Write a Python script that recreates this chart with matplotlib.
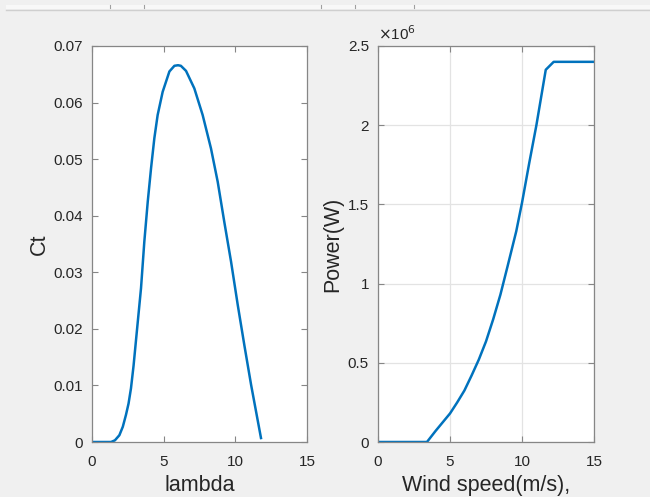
import matplotlib
matplotlib.use('Agg')
import matplotlib.pyplot as plt
from matplotlib.patches import Rectangle
from matplotlib.lines import Line2D

plt.rcParams['font.family'] = ['Liberation Sans', 'DejaVu Sans']

# Ct vs tip speed ratio
lam = [0, 0.5, 1.0, 1.33, 1.6, 1.91, 2.15, 2.37, 2.55, 2.72, 2.9, 3.07, 3.42,
       3.65, 3.89, 4.12, 4.35, 4.58, 4.93, 5.40, 5.75, 6.0, 6.2, 6.56, 7.14,
       7.72, 8.30, 8.77, 9.23, 9.70, 10.17, 10.63, 11.10, 11.79]
ct = [0, 0, 0, 0, 0.0003, 0.0012, 0.0027, 0.0048, 0.0068, 0.0095, 0.0135,
      0.0180, 0.0272, 0.0354, 0.0425, 0.0484, 0.0537, 0.0578, 0.0619, 0.0655,
      0.0665, 0.0666, 0.0665, 0.0656, 0.0625, 0.0578, 0.0519, 0.0460, 0.0389,
      0.0319, 0.0242, 0.0171, 0.0101, 0.0007]

# power curve
wind = [0, 3.4, 4, 4.5, 5, 5.5, 6, 6.5, 7, 7.5, 8, 8.5, 9, 9.6, 10, 10.5,
        11, 11.65, 12.2, 15]
power = [0, 0, 0.07e6, 0.125e6, 0.18e6, 0.25e6, 0.325e6, 0.42e6, 0.52e6,
         0.635e6, 0.775e6, 0.93e6, 1.11e6, 1.33e6, 1.51e6, 1.76e6, 2.0e6,
         2.35e6, 2.4e6, 2.4e6]

line_c = '#0072BD'
txt_c = '#262626'
ax_c = '#868686'

fig = plt.figure(figsize=(6.5, 4.97), dpi=100, facecolor='#f0f0f0')

# window toolbar edge at the top
fig.patches.append(Rectangle((6 / 650, 1 - 9 / 497), 1, 4 / 497,
                             transform=fig.transFigure, facecolor='#f8f8f8',
                             edgecolor='none'))
fig.lines.append(Line2D([6 / 650, 1], [1 - 9.5 / 497] * 2,
                        transform=fig.transFigure, color='#cfcfcf', lw=1))
for px in [110, 144, 321, 355, 414]:
    fig.lines.append(Line2D([px / 650] * 2, [1 - 5 / 497, 1 - 8 / 497],
                            transform=fig.transFigure, color='#a0a0a0', lw=0.8))

ax1 = fig.add_axes([92 / 650, 55 / 497, 215 / 650, 396 / 497])
ax2 = fig.add_axes([378 / 650, 55 / 497, 216 / 650, 396 / 497])

for ax in (ax1, ax2):
    ax.set_facecolor('white')
    for s in ax.spines.values():
        s.set_color(ax_c)
        s.set_linewidth(0.9)
    ax.tick_params(direction='in', top=True, right=True, length=4,
                   color=ax_c, labelcolor=txt_c, labelsize=11)
    ax.tick_params(axis='x', pad=9.5)
    ax.tick_params(axis='y', pad=6.5)
    ax.set_xlim(0, 15)
    ax.set_xticks([0, 5, 10, 15])

ax1.plot(lam, ct, color=line_c, lw=1.8)
ax1.set_ylim(0, 0.07)
ax1.set_yticks([0, 0.01, 0.02, 0.03, 0.04, 0.05, 0.06, 0.07])
ax1.set_yticklabels(['0', '0.01', '0.02', '0.03', '0.04', '0.05', '0.06', '0.07'])
ax1.set_xlabel('lambda', fontsize=15.5, color=txt_c, labelpad=4.5)
ax1.set_ylabel('Ct', fontsize=15.5, color=txt_c, labelpad=2.5)

ax2.plot(wind, power, color=line_c, lw=1.8)
ax2.set_ylim(0, 2.5e6)
ax2.set_yticks([0, 0.5e6, 1e6, 1.5e6, 2e6, 2.5e6])
ax2.set_yticklabels(['0', '0.5', '1', '1.5', '2', '2.5'])
ax2.grid(True, color='#e3e3e3', lw=0.9)
ax2.set_axisbelow(True)
ax2.set_xlabel('Wind speed(m/s),', fontsize=15.5, color=txt_c, labelpad=4.5)
ax2.set_ylabel('Power(W)', fontsize=15.5, color=txt_c, labelpad=3)
ax2.text(0.0, 1.008, r'$\times$10$^{6}$', transform=ax2.transAxes,
         fontsize=11, color=txt_c, ha='left', va='bottom')

fig.savefig('out.png', dpi=100, facecolor=fig.get_facecolor())
